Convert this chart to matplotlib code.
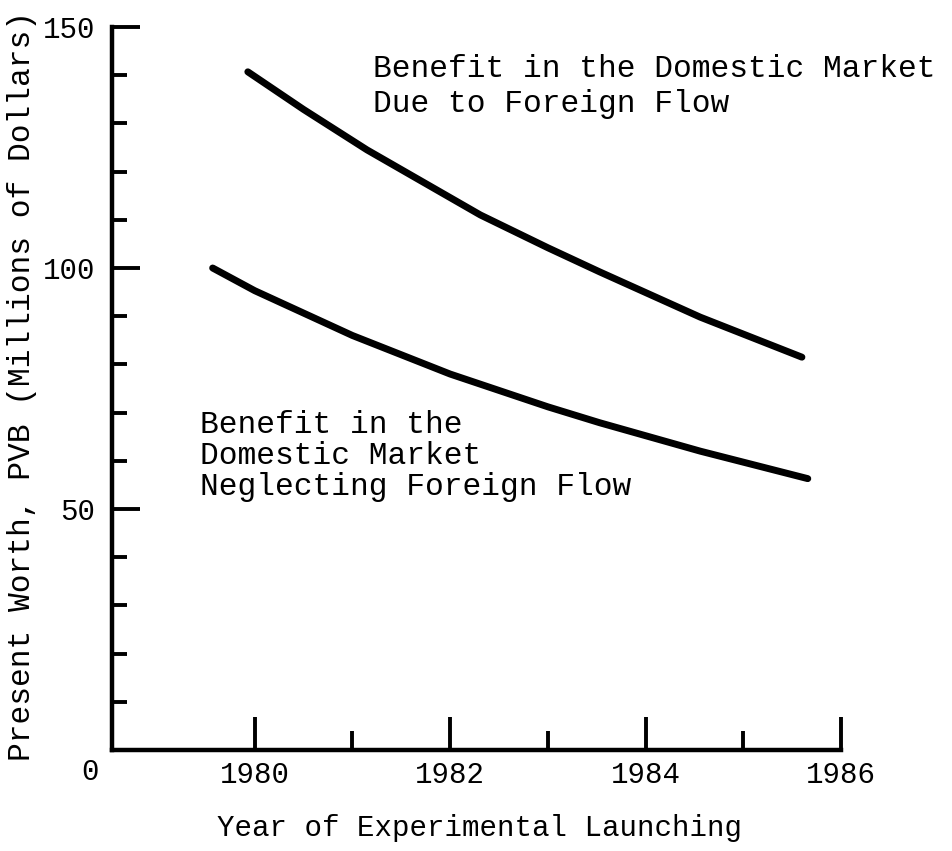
import matplotlib
matplotlib.use("Agg")
import matplotlib.pyplot as plt
from matplotlib.ticker import FixedLocator

# ---- data ----
years_foreign = [1979.93, 1980.5, 1981.15, 1982.31, 1983.0, 1983.53, 1984.56, 1985.6]
pvb_foreign = [140.7, 132.9, 124.5, 111.0, 104.2, 99.2, 89.8, 81.5]

years_domestic = [1979.57, 1980.0, 1981.0, 1982.0, 1983.0, 1983.53, 1984.56, 1985.66]
pvb_domestic = [100.0, 95.3, 86.0, 78.0, 71.2, 67.9, 62.0, 56.3]

x_major = [1980, 1982, 1984, 1986]
x_minor = [1981, 1983, 1985]
x_labels = ["1980", "1982", "1984", "1986"]
y_major = [50, 100, 150]
y_minor = [10, 20, 30, 40, 60, 70, 80, 90, 110, 120, 130, 140]
y_labels = ["50", "100", "150"]

label_foreign = "Benefit in the Domestic Market\nDue to Foreign Flow"
label_domestic = "Benefit in the\nDomestic Market\nNeglecting Foreign Flow"
xlabel = "Year of Experimental Launching"
ylabel = "Present Worth, PVB (Millions of Dollars)"

FONT = "Liberation Mono"
plt.rcParams["font.family"] = [FONT, "DejaVu Sans Mono"]

W, H = 953, 851
fig = plt.figure(figsize=(W / 100, H / 100), dpi=100)
ax = fig.add_axes([112 / W, (H - 750) / H, (841 - 112) / W, (750 - 27) / H])

ax.set_xlim(1978.54, 1986)
ax.set_ylim(0, 150)

lw_curve = 5.0
ax.plot(years_foreign, pvb_foreign, color="black", lw=lw_curve,
        solid_capstyle="round", solid_joinstyle="round")
ax.plot(years_domestic, pvb_domestic, color="black", lw=lw_curve,
        solid_capstyle="round", solid_joinstyle="round")

for s in ["top", "right"]:
    ax.spines[s].set_visible(False)
for s in ["left", "bottom"]:
    ax.spines[s].set_linewidth(3.2)
    ax.spines[s].set_capstyle("projecting")

ax.xaxis.set_major_locator(FixedLocator(x_major))
ax.xaxis.set_minor_locator(FixedLocator(x_minor))
ax.set_xticklabels(x_labels)
ax.yaxis.set_major_locator(FixedLocator(y_major))
ax.yaxis.set_minor_locator(FixedLocator(y_minor))
ax.set_yticklabels(y_labels)

ax.tick_params(axis="x", which="major", direction="in", length=24, width=2.8,
               pad=8, labelsize=21)
ax.tick_params(axis="x", which="minor", direction="in", length=14, width=2.8)
ax.tick_params(axis="y", which="major", direction="in", length=20, width=2.8,
               pad=12, labelsize=21)
ax.tick_params(axis="y", which="minor", direction="in", length=10.5, width=2.8)

# origin label
ax.annotate("0", xy=(1978.54, 0), xytext=(-22, -22), textcoords="offset pixels",
            ha="center", va="center", fontsize=21)

ax.text(1981.21, 137.7, label_foreign, ha="left", va="center",
        fontsize=22.5, linespacing=1.2)
ax.text(1979.44, 61.0, label_domestic, ha="left", va="center",
        fontsize=22.5, linespacing=1.06)

fig.text(480 / W, 1 - 828 / H, xlabel, ha="center", va="center", fontsize=21)
fig.text(22 / W, 1 - 386 / H, ylabel, ha="center", va="center",
         rotation=90, fontsize=22.5)

fig.savefig("out.png", dpi=100, facecolor="white")
